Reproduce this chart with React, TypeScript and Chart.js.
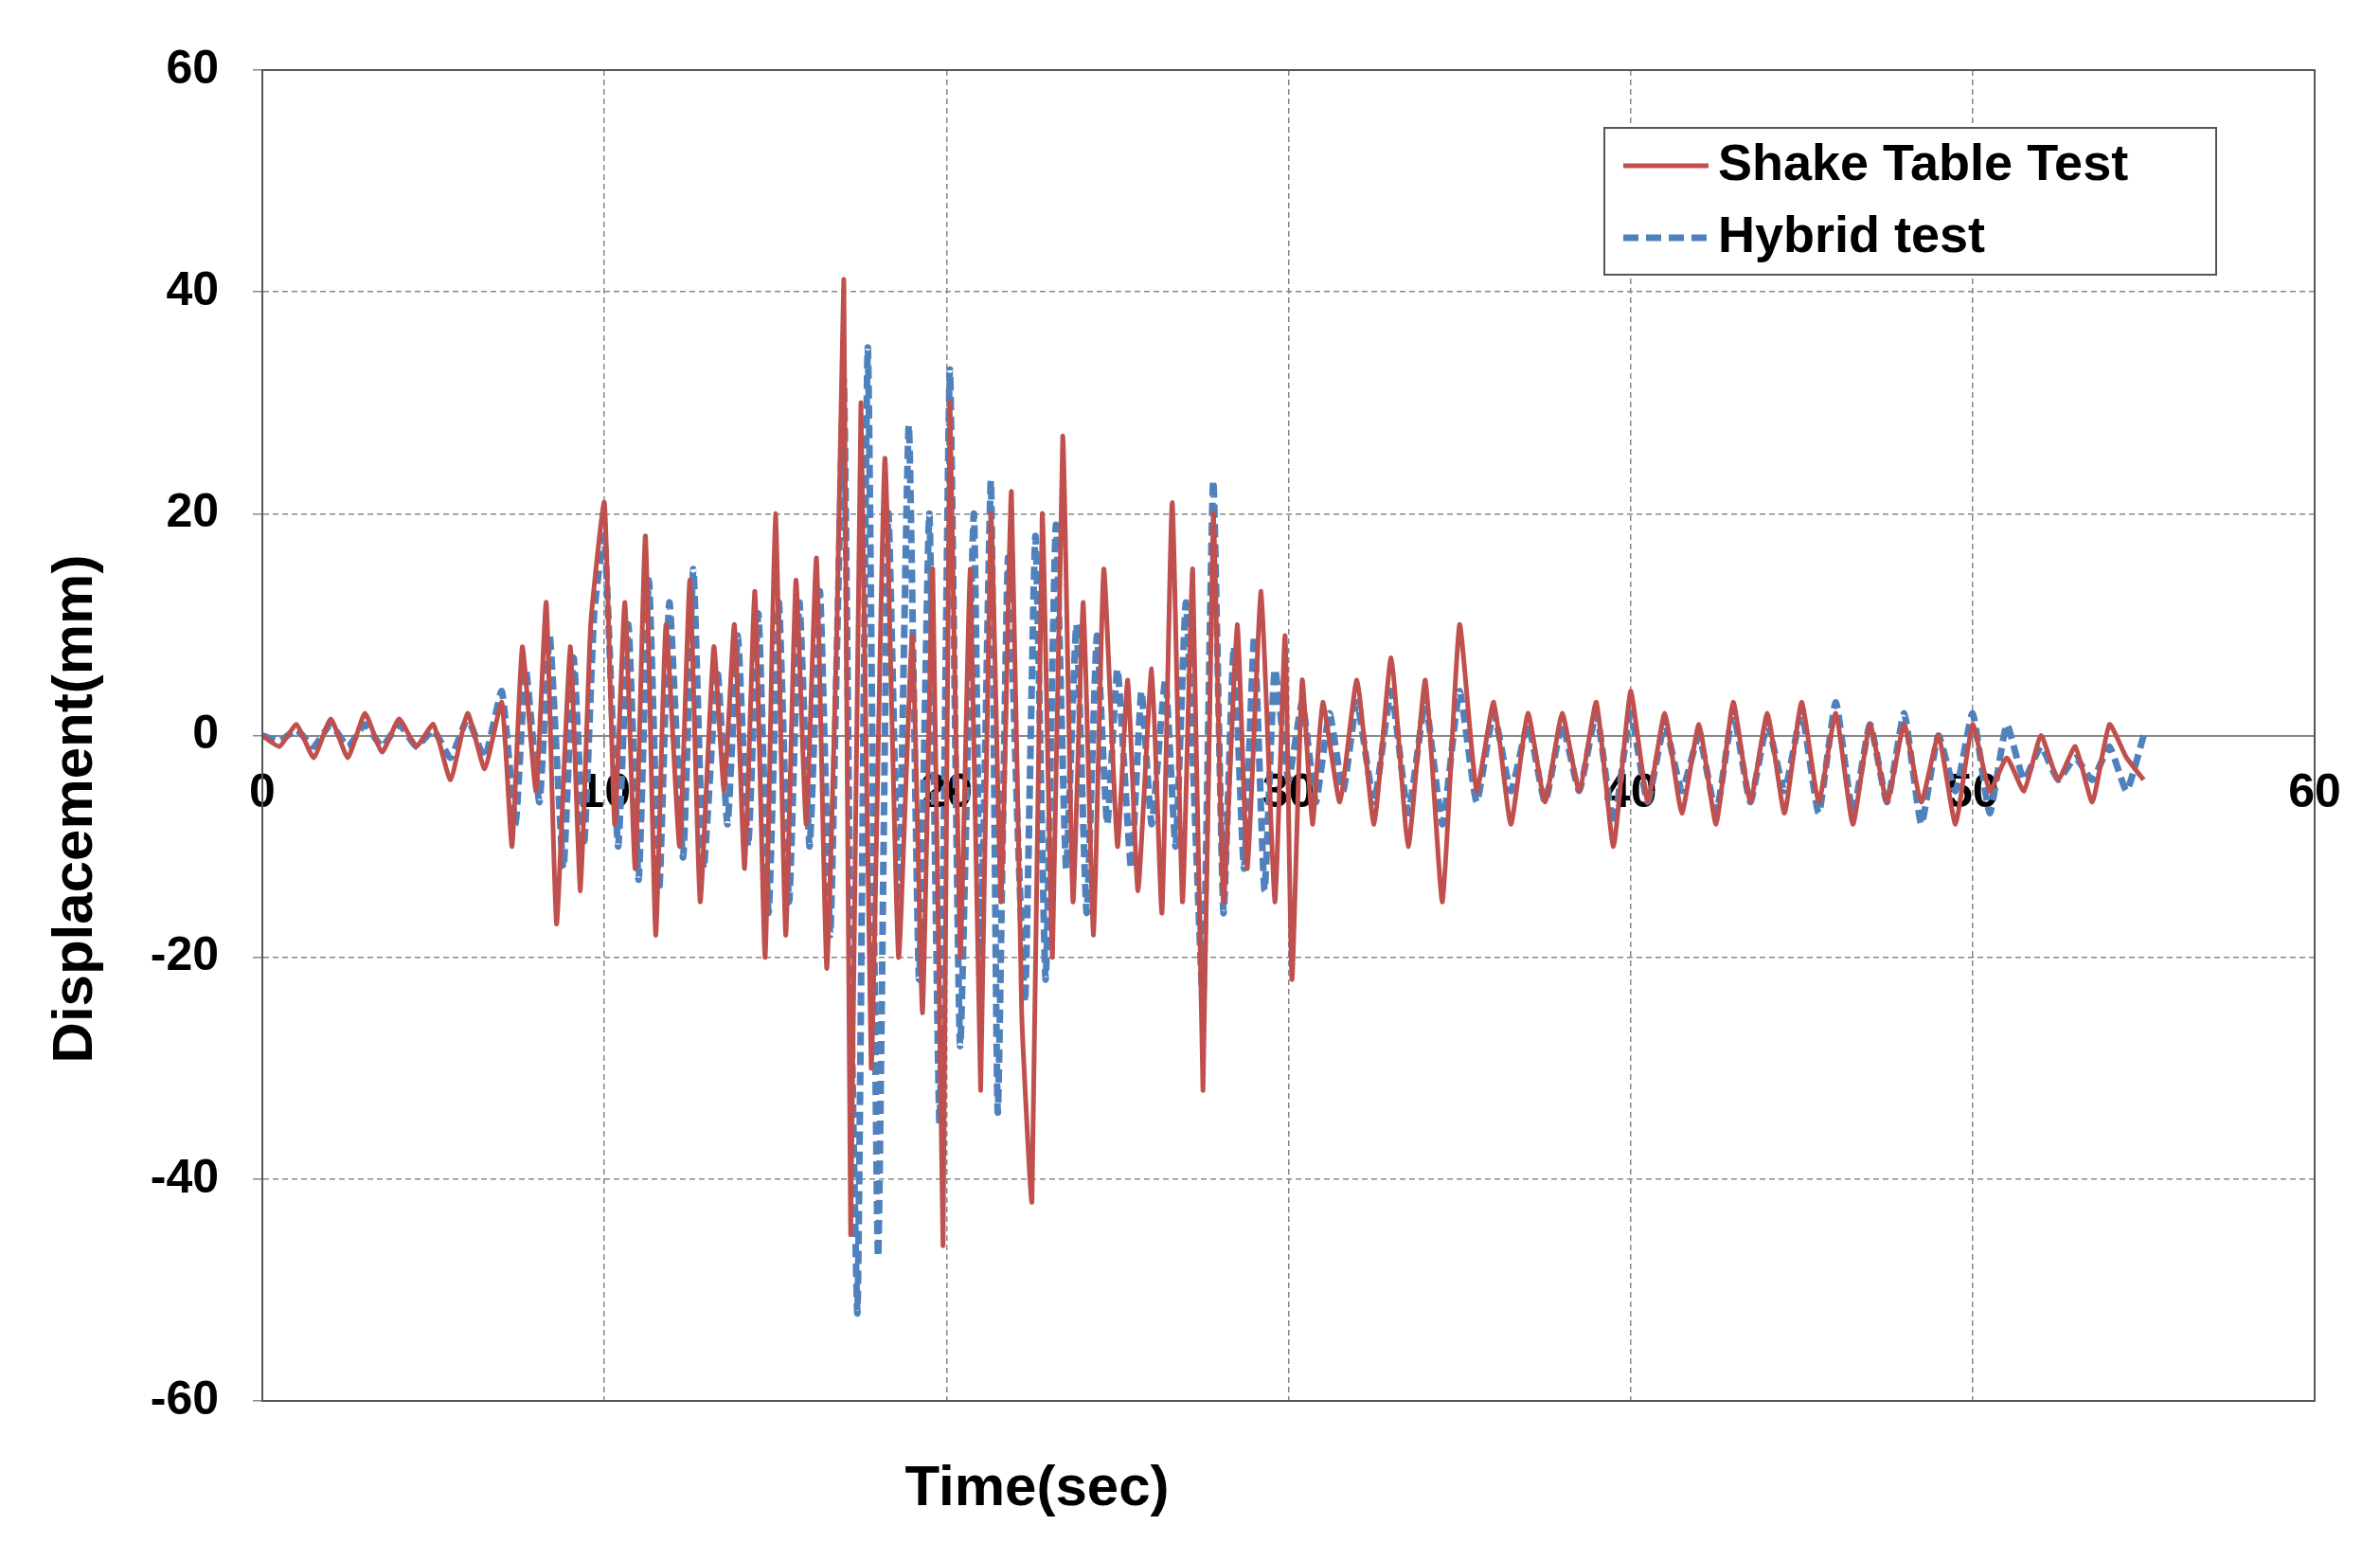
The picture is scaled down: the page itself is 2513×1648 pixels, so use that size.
import React, { useEffect, useRef } from "react";
import { Chart, registerables } from "chart.js";
Chart.register(...registerables);

const shakeT = [0,0.5,1,1.5,2,2.5,3,3.5,4,4.5,5,5.5,6,6.5,7,7.3,7.6,8,8.3,8.6,9,9.3,9.6,10,10.3,10.6,10.9,11.2,11.5,11.8,12.2,12.5,12.8,13.2,13.5,13.8,14.1,14.4,14.7,15,15.3,15.6,15.9,16.2,16.5,16.8,17,17.2,17.5,17.8,18.2,18.6,19,19.3,19.6,19.9,20.1,20.4,20.7,21,21.3,21.6,21.9,22.2,22.5,22.8,23.1,23.4,23.7,24,24.3,24.6,25,25.3,25.6,26,26.3,26.6,26.9,27.2,27.5,27.8,28.1,28.5,28.8,29.2,29.6,29.9,30.1,30.4,30.7,31,31.5,32,32.5,33,33.5,34,34.5,35,35.5,36,36.5,37,37.5,38,38.5,39,39.5,40,40.5,41,41.5,42,42.5,43,43.5,44,44.5,45,45.5,46,46.5,47,47.5,48,48.5,49,49.5,50,50.5,51,51.5,52,52.5,53,53.5,54,54.5,55];
const shakeV = [0,-1,1,-2,1.5,-2,2,-1.5,1.5,-1,1,-4,2,-3,3,-10,8,-5,12,-17,8,-14,10,21,-8,12,-12,18,-18,10,-10,14,-15,8,-5,10,-12,13,-20,20,-18,14,-8,16,-21,10,41,-45,30,-30,25,-20,9,-25,15,-46,30,-20,15,-32,20,-15,22,-25,-42,20,-20,27,-15,12,-18,15,-10,5,-14,6,-16,21,-15,15,-32,20,-15,10,-12,13,-15,9,-22,5,-8,3,-6,5,-8,7,-10,5,-15,10,-5,3,-8,2,-6,2,-5,3,-10,4,-6,2,-7,1,-8,3,-6,2,-7,3,-6,2,-8,1,-6,1,-6,0,-8,1,-5,-2,-5,0,-4,-1,-6,1,-2,-4];

const hybridT = [0,0.5,1,1.5,2,2.5,3,3.5,4,4.5,5,5.5,6,6.5,7,7.4,7.7,8.1,8.4,8.8,9.1,9.4,9.7,10,10.4,10.7,11,11.3,11.6,11.9,12.3,12.6,12.9,13.3,13.6,13.9,14.2,14.5,14.8,15.1,15.4,15.7,16,16.3,16.6,16.8,17,17.2,17.4,17.7,18,18.3,18.6,18.9,19.2,19.5,19.8,20.1,20.4,20.8,21,21.3,21.5,21.8,22.1,22.3,22.6,22.9,23.2,23.5,23.8,24.1,24.4,24.7,25,25.4,25.7,26,26.4,26.7,27,27.3,27.5,27.8,28.1,28.4,28.7,29,29.3,29.6,30,30.4,30.8,31.2,31.6,32,32.5,33,33.5,34,34.5,35,35.5,36,36.5,37,37.5,38,38.5,39,39.5,40,40.5,41,41.5,42,42.5,43,43.5,44,44.5,45,45.5,46,46.5,47,47.5,48,48.5,49,49.5,50,50.5,51,51.5,52,52.5,53,53.5,54,54.5,55];
const hybridV = [0,-0.5,0.5,-1,1,-1,1,-1,1,-1,0.5,-2,1.5,-2,4,-8,6,-6,9,-12,7,-10,11,18,-10,10,-13,14,-14,12,-11,15,-12,6,-8,9,-10,11,-16,12,-15,12,-10,13,-18,8,32,-20,-52,35,-47,20,-15,28,-22,20,-35,33,-28,20,-20,23,-34,16,-10,-24,18,-22,19,-12,10,-16,9,-8,6,-12,4,-8,5,-10,12,-10,-24,23,-16,8,-12,9,-14,6,-4,3,-6,2,-5,3,-6,4,-7,3,-8,4,-6,2,-5,1,-6,1,-5,2,-8,2,-6,1,-5,0,-7,2,-6,1,-5,2,-7,3,-7,1,-6,2,-8,0,-5,2,-7,1,-4,-1,-4,-2,-4,-1,-5,0,-3,-4];

const xTicks = [0,10,20,30,40,50,60];

export default function App() {
  const ref = useRef<HTMLCanvasElement>(null);
  useEffect(() => {
    document.body.style.margin = "0";
    const font = "'Liberation Sans', Arial, sans-serif";
    const deco = {
      id: "deco",
      afterDraw(c: any) {
        const { ctx, chartArea: a } = c;
        ctx.save();
        ctx.strokeStyle = "#555"; ctx.lineWidth = 2;
        ctx.strokeRect(a.left, a.top, a.right - a.left, a.bottom - a.top);
        ctx.fillStyle = "#000";
        ctx.font = `bold 60px ${font}`;
        ctx.textAlign = "center"; ctx.textBaseline = "middle";
        ctx.fillText("Time(sec)", 1095, 1572);
        ctx.translate(80, 854); ctx.rotate(-Math.PI / 2);
        ctx.fillText("Displacement(mm)", 0, 0);
        ctx.restore();
        ctx.save();
        const lx = 1694, ly = 135, lw = 646, lh = 155;
        ctx.fillStyle = "#fff"; ctx.fillRect(lx, ly, lw, lh);
        ctx.strokeStyle = "#555"; ctx.lineWidth = 2; ctx.strokeRect(lx, ly, lw, lh);
        ctx.lineWidth = 5; ctx.strokeStyle = "#C0504D";
        ctx.beginPath(); ctx.moveTo(lx + 20, ly + 40); ctx.lineTo(lx + 110, ly + 40); ctx.stroke();
        ctx.lineWidth = 7; ctx.strokeStyle = "#4F81BD"; ctx.setLineDash([16, 8]);
        ctx.beginPath(); ctx.moveTo(lx + 20, ly + 116); ctx.lineTo(lx + 110, ly + 116); ctx.stroke();
        ctx.setLineDash([]);
        ctx.fillStyle = "#000"; ctx.font = `bold 54px ${font}`;
        ctx.textAlign = "left"; ctx.textBaseline = "middle";
        ctx.fillText("Shake Table Test", lx + 120, ly + 40);
        ctx.fillText("Hybrid test", lx + 120, ly + 116);
        ctx.restore();
      },
    };
    const chart = new Chart(ref.current!, {
      type: "line",
      data: {
        datasets: [
          { label: "Shake Table Test", data: shakeT.map((t, i) => ({ x: t, y: shakeV[i] })), borderColor: "#C0504D", borderWidth: 5, pointRadius: 0, tension: 0.15 },
          { label: "Hybrid test", data: hybridT.map((t, i) => ({ x: t, y: hybridV[i] })), borderColor: "#4F81BD", borderWidth: 7, borderDash: [14, 7], pointRadius: 0, tension: 0.15 },
        ],
      },
      options: {
        animation: false, responsive: false, maintainAspectRatio: false,
        layout: { padding: { left: 0, top: 74, right: 69, bottom: 169 } },
        plugins: { legend: { display: false }, tooltip: { enabled: false } },
        scales: {
          x: {
            type: "linear", min: 0, max: 60, position: { y: 0 } as any,
            afterBuildTicks: (s: any) => { s.ticks = xTicks.map(v => ({ value: v })); },
            ticks: { font: { size: 50, weight: "bold", family: font }, color: "#000", padding: 22 },
            grid: { color: "#888", tickLength: 10, lineWidth: 1.5 } as any,
            border: { color: "#888", width: 2, dash: [6, 4] } as any,
          },
          y: {
            min: -60, max: 60,
            afterFit: (s: any) => { s.width = 277; },
            ticks: { stepSize: 20, font: { size: 50, weight: "bold", family: font }, color: "#000", padding: 36 },
            grid: { color: "#888", tickLength: 10, lineWidth: 1.5 } as any,
            border: { color: "#555", width: 2, dash: [6, 4] } as any,
          },
        },
      },
      plugins: [deco],
    });
    return () => chart.destroy();
  }, []);
  return <canvas ref={ref} width={2513} height={1648} style={{ display: "block" }} />;
}
